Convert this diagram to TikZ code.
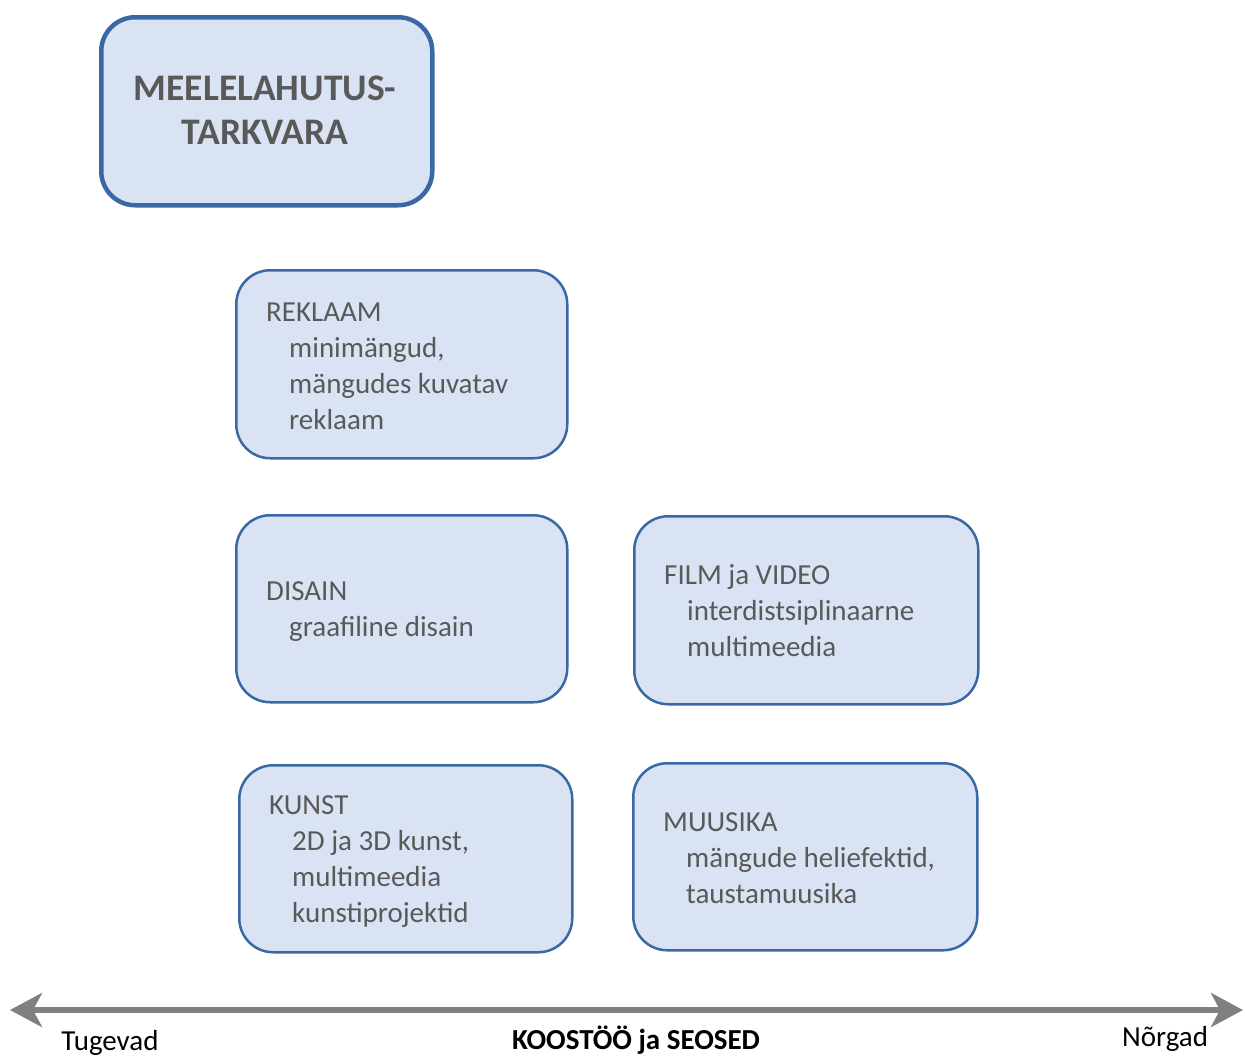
\documentclass[tikz,border=0pt]{standalone}
\usepackage{fontspec}
\setmainfont{Carlito}
\usetikzlibrary{arrows.meta}
\definecolor{bordc}{HTML}{3A68A4}
\definecolor{fillc}{HTML}{DAE3F3}
\definecolor{txtc}{HTML}{595959}
\definecolor{arrc}{HTML}{808080}
\tikzset{
  box/.style={draw=bordc, fill=fillc, line width=2.5pt, rounded corners=34pt, anchor=north west, inner sep=0pt},
  mainbox/.style={box, line width=4.5pt},
  boxtext/.style={anchor=base west, inner sep=0pt, text=txtc, font=\fontsize{29}{36}\selectfont},
  titletext/.style={anchor=base, inner sep=0pt, text=txtc, font=\fontsize{37.5}{44}\selectfont\bfseries},
  lbl/.style={anchor=base, inner sep=0pt, text=black, font=\fontsize{29}{36}\selectfont},
  axis/.style={draw=arrc, line width=6.5pt, {Stealth[length=32pt,width=34pt,inset=9pt]}-{Stealth[length=32pt,width=34pt,inset=9pt]}},
}
\newcommand{\ind}{\hspace*{23pt}}
\begin{document}
\begin{tikzpicture}[x=1pt,y=-1pt]
\useasboundingbox (0,0) rectangle (1245,1055);
% main box
\node[mainbox, minimum width=331pt, minimum height=188pt] (main) at (99,15) {};
\node[titletext] (maint) at (265,100) {MEELELAHUTUS-};
\node[titletext] (maint2) at (265,144) {TARKVARA};
% boxes
\node[box, minimum width=331pt, minimum height=188pt] (rek) at (235,269) {};
\node[boxtext] (rekt) at (266,321) {\begin{tabular}[t]{@{}l@{}}REKLAAM\\\ind minimängud,\\\ind mängudes kuvatav\\\ind reklaam\end{tabular}};
\node[box, minimum width=331pt, minimum height=187pt] (dis) at (235,514) {};
\node[boxtext] (dist) at (266,600) {\begin{tabular}[t]{@{}l@{}}DISAIN\\\ind graafiline disain\end{tabular}};
\node[box, minimum width=344pt, minimum height=188pt] (film) at (633,515) {};
\node[boxtext] (filmt) at (664,584) {\begin{tabular}[t]{@{}l@{}}FILM ja VIDEO\\\ind interdistsiplinaarne\\\ind multimeedia\end{tabular}};
\node[box, minimum width=333pt, minimum height=187pt] (kun) at (238,764) {};
\node[boxtext] (kunt) at (269,814) {\begin{tabular}[t]{@{}l@{}}KUNST\\\ind 2D ja 3D kunst,\\\ind multimeedia\\\ind kunstiprojektid\end{tabular}};
\node[box, minimum width=344pt, minimum height=187pt] (muu) at (632,762) {};
\node[boxtext] (muut) at (663,831) {\begin{tabular}[t]{@{}l@{}}MUUSIKA\\\ind mängude heliefektid,\\\ind taustamuusika\end{tabular}};
% axis
\coordinate (axl) at (10,1010);
\coordinate (axr) at (1243,1010);
\draw[axis] (axl) -- (axr);
\node[lbl] (tug) at (110,1050) {Tugevad};
\node[lbl, font=\fontsize{29}{36}\selectfont\bfseries] (koo) at (636,1049) {KOOSTÖÖ ja SEOSED};
\node[lbl] (nor) at (1165,1046) {Nõrgad};
\end{tikzpicture}
\end{document}
